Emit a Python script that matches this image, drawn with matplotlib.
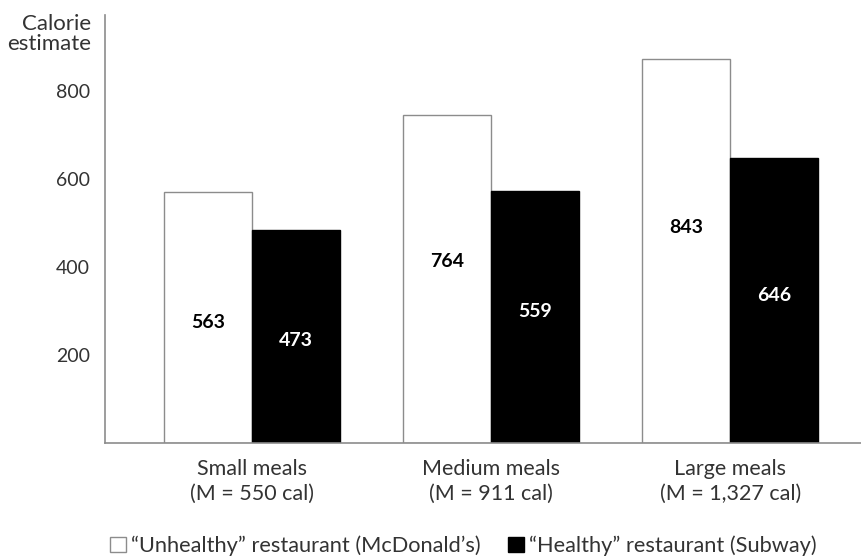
import matplotlib
matplotlib.use("Agg")
import matplotlib.pyplot as plt
from matplotlib.patches import Patch
import numpy as np

# data
categories = ["Small meals\n(M = 550 cal)",
              "Medium meals\n(M = 911 cal)",
              "Large meals\n(M = 1,327 cal)"]
unhealthy = [571, 745, 872]      # bar heights as drawn
healthy = [484, 573, 647]
unhealthy_labels = ["563", "764", "843"]
healthy_labels = ["473", "559", "646"]
yticks = [200, 400, 600, 800]

# label heights used in the picture (layout only)
unhealthy_label_y = [275, 412, 489]
healthy_label_y = [234, 298, 336]

plt.rcParams["font.family"] = ["Lato", "DejaVu Sans"]
txt = "#333333"
axis_col = "#8c8c8c"

fig = plt.figure(figsize=(8.62, 5.56), dpi=100)
ax = fig.add_axes([105 / 862, 113 / 556, 757 / 862, 428 / 556])

x = np.arange(len(categories))
w = 0.368
ax.bar(x - w / 2, unhealthy, w, color="white", edgecolor=axis_col, linewidth=1)
ax.bar(x + w / 2, healthy, w, color="black", edgecolor="black", linewidth=1)

for i in range(len(categories)):
    ax.text(x[i] - w / 2, unhealthy_label_y[i], unhealthy_labels[i],
            ha="center", va="center", fontsize=14, fontweight="bold", color="black")
    ax.text(x[i] + w / 2, healthy_label_y[i], healthy_labels[i],
            ha="center", va="center", fontsize=14, fontweight="bold", color="white")

ax.set_xlim(-0.615, 2.55)
ax.set_ylim(0, 973)
ax.set_yticks(yticks)
ax.set_yticklabels([str(v) for v in yticks], fontsize=14, color=txt)
ax.set_xticks(x)
ax.set_xticklabels(categories, fontsize=15.5, color=txt, linespacing=1.3)
ax.tick_params(axis="both", length=0)
ax.tick_params(axis="y", pad=11)
ax.tick_params(axis="x", pad=11.5)

for s in ["top", "right"]:
    ax.spines[s].set_visible(False)
for s in ["left", "bottom"]:
    ax.spines[s].set_color(axis_col)
    ax.spines[s].set_linewidth(1.2)

fig.text(91 / 862, 1 - 34 / 556, "Calorie\nestimate", ha="right", va="center",
         fontsize=16, color=txt, linespacing=1.05)

handles = [Patch(facecolor="white", edgecolor=axis_col, label="\u201cUnhealthy\u201d restaurant (McDonald\u2019s)"),
           Patch(facecolor="black", edgecolor="black", label="\u201cHealthy\u201d restaurant (Subway)")]
fig.legend(handles=handles, loc="center", bbox_to_anchor=(463.5 / 862, 10 / 556), ncol=2,
           frameon=False, fontsize=15.7, handlelength=0.72, handleheight=0.72,
           handletextpad=0.25, columnspacing=1.25, labelcolor=txt,
           borderpad=0, borderaxespad=0)

fig.savefig("out.png", dpi=100)
